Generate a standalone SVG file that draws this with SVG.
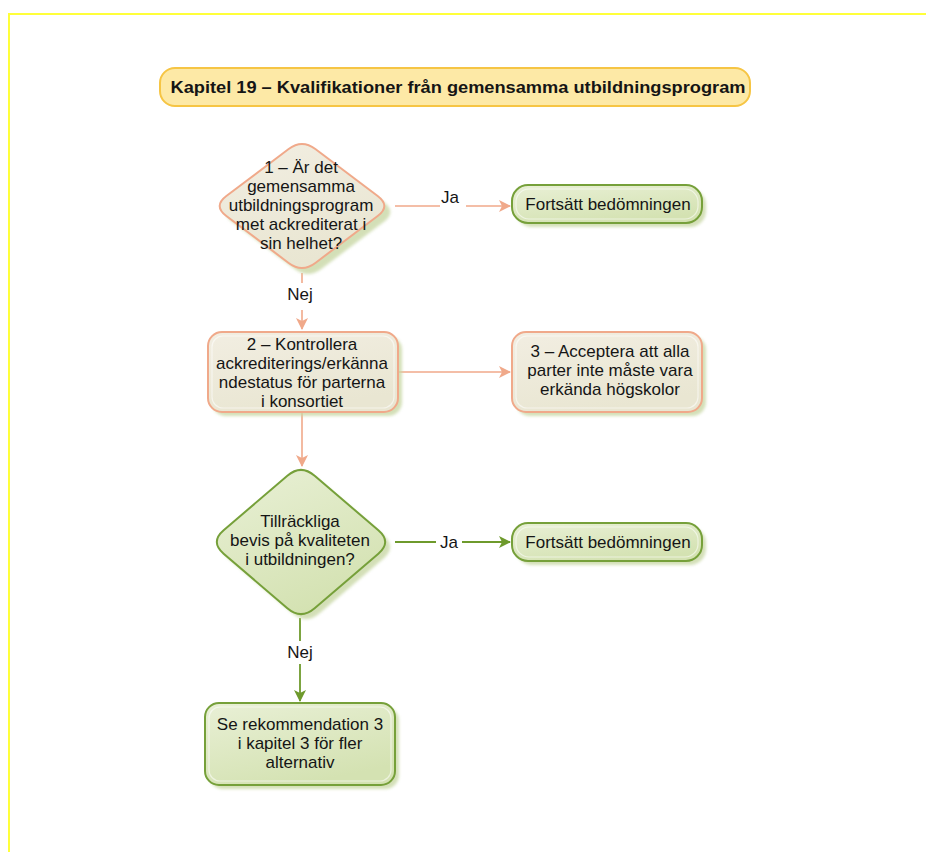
<svg xmlns="http://www.w3.org/2000/svg" width="926" height="852" viewBox="0 0 926 852">
  <style>
    .t { font-family: "Liberation Sans", "Open Sans", sans-serif; font-size: 17px; fill: #151515; text-anchor: middle; }
    .title { font-family: "Liberation Sans", "Open Sans", sans-serif; font-size: 16px; font-weight: bold; fill: #151515; text-anchor: middle; }
    .beige { fill: url(#gBeige); stroke: #f0a98a; stroke-width: 2; }
    .green { fill: url(#gGreen); stroke: #76a03a; stroke-width: 2; }
    .shadow { fill: #c9d8a6; opacity: 0.8; filter: url(#soft); }
    .inner { fill: none; stroke: #ffffff; stroke-width: 1.2; opacity: 0.55; }
    .cs { fill: none; stroke: #f0a98a; stroke-width: 1.6; }
    .cg { fill: none; stroke: #6e9a2c; stroke-width: 1.8; }
  </style>
  <defs>
    <linearGradient id="gBeige" x1="0" y1="0" x2="0.4" y2="1">
      <stop offset="0" stop-color="#f2eee2"/>
      <stop offset="1" stop-color="#e9e6d2"/>
    </linearGradient>
    <linearGradient id="gGreen" x1="0" y1="0" x2="0.5" y2="1">
      <stop offset="0" stop-color="#e9f0d6"/>
      <stop offset="1" stop-color="#d4e2b2"/>
    </linearGradient>
    <filter id="soft" x="-10%" y="-10%" width="120%" height="120%">
      <feGaussianBlur stdDeviation="1.5"/>
    </filter>
    <marker id="arrS" viewBox="0 0 12 12" refX="11" refY="6" markerWidth="12" markerHeight="12" markerUnits="userSpaceOnUse" orient="auto">
      <path d="M0,0 L12,6 L0,12 L3,6 Z" fill="#f0a98a"/>
    </marker>
    <marker id="arrG" viewBox="0 0 12 12" refX="11" refY="6" markerWidth="12" markerHeight="12" markerUnits="userSpaceOnUse" orient="auto">
      <path d="M0,0 L12,6 L0,12 L3,6 Z" fill="#6e9a2c"/>
    </marker>
  </defs>

  <rect width="926" height="852" fill="#ffffff"/>
  <!-- page frame -->
  <polyline points="9,852 9,14 926,14" fill="none" stroke="#ffff3a" stroke-width="2"/>

  <!-- title -->
  <g id="title">
    <rect x="160" y="68" width="590" height="38" rx="15" fill="#fde9a6" stroke="#f6c544" stroke-width="2"/>
    <text class="title" x="458" y="93" textLength="575" lengthAdjust="spacingAndGlyphs">Kapitel 19 – Kvalifikationer från gemensamma utbildningsprogram</text>
  </g>

  <!-- connectors -->
  <g id="connectors">
    <line class="cs" x1="395" y1="206" x2="440" y2="206"/>
    <line class="cs" x1="466" y1="206" x2="510" y2="206" marker-end="url(#arrS)"/>
    <text class="t" x="450" y="203">Ja</text>

    <line class="cs" x1="302" y1="273" x2="302" y2="283"/>
    <line class="cs" x1="302" y1="310" x2="302" y2="329" marker-end="url(#arrS)"/>
    <text class="t" x="300" y="300">Nej</text>

    <line class="cs" x1="398" y1="372" x2="510" y2="372" marker-end="url(#arrS)"/>

    <line class="cs" x1="302" y1="412" x2="302" y2="466" marker-end="url(#arrS)"/>

    <line class="cg" x1="395" y1="542" x2="436" y2="542"/>
    <line class="cg" x1="462" y1="542" x2="510" y2="542" marker-end="url(#arrG)"/>
    <text class="t" x="449" y="548">Ja</text>

    <line class="cg" x1="300" y1="618" x2="300" y2="641"/>
    <line class="cg" x1="300" y1="664" x2="300" y2="701" marker-end="url(#arrG)"/>
    <text class="t" x="300" y="658">Nej</text>
  </g>

  <!-- decision 1 -->
  <g id="decision1">
    <path class="shadow" transform="translate(6,6)" d="M315.35,149.05 L377.65,195.95 Q391,206 377.65,216.05 L315.35,262.95 Q302,273 288.65,262.95 L226.35,216.05 Q213,206 226.35,195.95 L288.65,149.05 Q302,139 315.35,149.05 Z"/>
    <path class="beige" d="M315.35,149.05 L377.65,195.95 Q391,206 377.65,216.05 L315.35,262.95 Q302,273 288.65,262.95 L226.35,216.05 Q213,206 226.35,195.95 L288.65,149.05 Q302,139 315.35,149.05 Z"/>
    <text class="t" x="301" y="173">1 – Är det</text>
    <text class="t" x="301" y="192">gemensamma</text>
    <text class="t" x="301" y="211">utbildningsprogram</text>
    <text class="t" x="301" y="230">met ackrediterat i</text>
    <text class="t" x="301" y="249">sin helhet?</text>
  </g>

  <!-- result 1 -->
  <g id="continue1">
    <rect class="shadow" x="516" y="189" width="190" height="38" rx="16"/>
    <rect class="green" x="512" y="185" width="190" height="38" rx="16"/>
    <rect class="inner" x="516" y="189" width="182" height="30" rx="13"/>
    <text class="t" x="608" y="210">Fortsätt bedömningen</text>
  </g>

  <!-- step 2 -->
  <g id="check2">
    <rect class="shadow" x="212" y="336" width="190" height="80" rx="14"/>
    <rect class="beige" x="208" y="332" width="190" height="80" rx="14"/>
    <rect class="inner" x="212" y="336" width="182" height="72" rx="11"/>
    <text class="t" x="302" y="350">2 – Kontrollera</text>
    <text class="t" x="302" y="369">ackrediterings/erkänna</text>
    <text class="t" x="302" y="388">ndestatus för parterna</text>
    <text class="t" x="302" y="407">i konsortiet</text>
  </g>

  <!-- step 3 -->
  <g id="accept3">
    <rect class="shadow" x="516" y="336" width="190" height="80" rx="14"/>
    <rect class="beige" x="512" y="332" width="190" height="80" rx="14"/>
    <rect class="inner" x="516" y="336" width="182" height="72" rx="11"/>
    <text class="t" x="610" y="357">3 – Acceptera att alla</text>
    <text class="t" x="610" y="376">parter inte måste vara</text>
    <text class="t" x="610" y="395">erkända högskolor</text>
  </g>

  <!-- decision 2 -->
  <g id="decision2">
    <path class="shadow" transform="translate(5,5)" d="M314.65,475.7 L378.35,530.3 Q392,542 378.35,553.7 L314.65,608.3 Q301,620 287.35,608.3 L223.65,553.7 Q210,542 223.65,530.3 L287.35,475.7 Q301,464 314.65,475.7 Z"/>
    <path class="green" d="M314.65,475.7 L378.35,530.3 Q392,542 378.35,553.7 L314.65,608.3 Q301,620 287.35,608.3 L223.65,553.7 Q210,542 223.65,530.3 L287.35,475.7 Q301,464 314.65,475.7 Z"/>
    <text class="t" x="300" y="527">Tillräckliga</text>
    <text class="t" x="300" y="546">bevis på kvaliteten</text>
    <text class="t" x="300" y="565">i utbildningen?</text>
  </g>

  <!-- result 2 -->
  <g id="continue2">
    <rect class="shadow" x="516" y="527" width="190" height="38" rx="16"/>
    <rect class="green" x="512" y="523" width="190" height="38" rx="16"/>
    <rect class="inner" x="516" y="527" width="182" height="30" rx="13"/>
    <text class="t" x="608" y="548">Fortsätt bedömningen</text>
  </g>

  <!-- recommendation -->
  <g id="recommend">
    <rect class="shadow" x="209" y="707" width="190" height="82" rx="14"/>
    <rect class="green" x="205" y="703" width="190" height="82" rx="14"/>
    <rect class="inner" x="209" y="707" width="182" height="74" rx="11"/>
    <text class="t" x="300" y="730">Se rekommendation 3</text>
    <text class="t" x="300" y="749">i kapitel 3 för fler</text>
    <text class="t" x="300" y="768">alternativ</text>
  </g>
</svg>
